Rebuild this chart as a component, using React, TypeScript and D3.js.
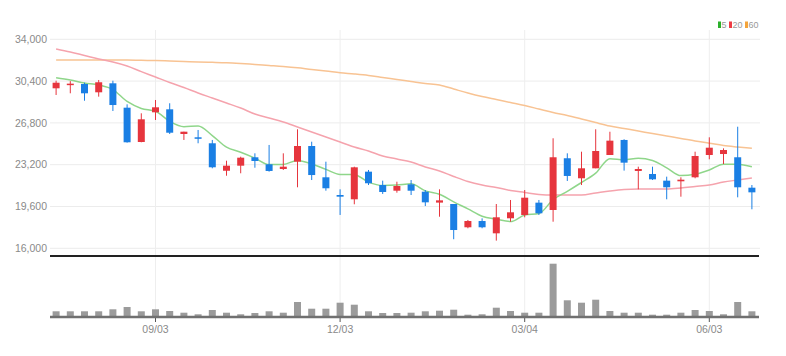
import React from "react";
import * as d3 from "d3";

const dates = [
  "2018-07-16","2018-07-23","2018-07-30","2018-08-06","2018-08-13","2018-08-20","2018-08-27",
  "2018-09-03","2018-09-10","2018-09-17","2018-09-24","2018-10-01","2018-10-08","2018-10-15",
  "2018-10-22","2018-10-29","2018-11-05","2018-11-12","2018-11-19","2018-11-26","2018-12-03",
  "2018-12-10","2018-12-17","2018-12-24","2018-12-31","2019-01-07","2019-01-14","2019-01-21",
  "2019-01-28","2019-02-04","2019-02-11","2019-02-18","2019-02-25","2019-03-04","2019-03-11",
  "2019-03-18","2019-03-25","2019-04-01","2019-04-08","2019-04-15","2019-04-22","2019-04-29",
  "2019-05-06","2019-05-13","2019-05-20","2019-05-27","2019-06-03","2019-06-10","2019-06-17",
  "2019-06-24",
];

const opens = [
  29780, 30100, 30150, 29435, 30210, 28110, 25155, 27713, 27970, 25845,
  25560, 25045, 22680, 23115, 23838, 23235, 22830, 23460, 24810, 22115,
  20590, 20220, 22600, 21450, 20960, 21510, 20875, 19935, 19815, 17810,
  18350, 17290, 18585, 18870, 19930, 19300, 23755, 22030, 22890, 24035,
  25330, 22660, 22400, 21825, 21770, 22115, 24035, 24120, 23840, 21220,
];
const highs = [
  30435, 30400, 30260, 30495, 30435, 28400, 27627, 28773, 28490, 26043,
  26190, 25330, 23545, 23890, 24180, 24900, 24180, 26250, 25180, 23460,
  21080, 23030, 22745, 21825, 21735, 21880, 21020, 21080, 19815, 18440,
  18580, 19815, 20160, 21020, 20160, 25475, 24180, 24320, 26250, 26040,
  25390, 23030, 23030, 22170, 22115, 24320, 25560, 24610, 26470, 21450,
];
const lows = [
  29203, 29350, 28710, 29060, 27825, 25100, 25130, 27050, 25845, 25330,
  25045, 22890, 22250, 22460, 22940, 22600, 22745, 21255, 21880, 20960,
  18870, 19790, 21450, 20680, 20790, 20590, 19640, 18720, 16780, 17725,
  17725, 16660, 18290, 18670, 18870, 18290, 21800, 21450, 22890, 24035,
  22690, 21080, 21880, 20220, 20445, 22030, 23665, 23260, 20390, 19360,
];
const closes = [
  30262, 30180, 29350, 30300, 28340, 25130, 27110, 28143, 25955, 26043,
  25440, 22977, 23115, 23805, 23520, 22660, 23030, 24810, 22310, 21170,
  20445, 22975, 21600, 20850, 21365, 20960, 19960, 20130, 17575, 18350,
  17810, 18670, 19100, 20360, 19015, 23840, 22230, 22890, 24380, 25270,
  23375, 22830, 21940, 21255, 21910, 23950, 24665, 24465, 21255, 20820,
];
const volumes = [
  5700, 5700, 5700, 5700, 7700, 10000, 5700, 7700, 6000, 4300,
  2700, 7000, 4300, 2700, 4000, 5700, 4300, 15000, 8300, 8300,
  14300, 12300, 5700, 4000, 4000, 4300, 5700, 6300, 7300, 2300,
  2700, 9300, 6000, 4300, 4300, 53300, 16700, 14300, 17300, 6000,
  4300, 4300, 2300, 2300, 4300, 7000, 6000, 2700, 15000, 5700,
];
const ma5 = [
  30690, 30495, 30235, 30060, 29670, 28644, 28046, 27805, 26936, 26476,
  26538, 25712, 24706, 24276, 23771, 23215, 23226, 23565, 23266, 22796,
  22353, 22342, 21700, 21408, 21447, 21550, 20947, 20653, 19998, 19395,
  18765, 18507, 18301, 18858, 18991, 20197, 20909, 21667, 22471, 23722,
  23629, 23749, 23559, 22934, 22262, 22377, 22744, 23249, 23249, 23031,
];
const ma20 = [
  33165, 32906, 32605, 32303, 32045, 31701, 31218, 30753, 30280, 29849,
  29376, 28945, 28515, 28084, 27567, 27223, 26877, 26447, 26016, 25586,
  25155, 24725, 24380, 23950, 23692, 23433, 23003, 22658, 22185, 21754,
  21452, 21237, 20979, 20807, 20634, 20591, 20591, 20591, 20763, 20935,
  21065, 21108, 21108, 21108, 21194, 21323, 21452, 21711, 21883, 22055,
];
const ma60 = [
  32217, 32217, 32217, 32217, 32217, 32217, 32191, 32174, 32131, 32088,
  32045, 32019, 31985, 31916, 31830, 31744, 31657, 31545, 31399, 31270,
  31124, 31012, 30882, 30710, 30538, 30366, 30194, 30064, 29720, 29376,
  29072, 28814, 28555, 28297, 27996, 27694, 27438, 27136, 26826, 26534,
  26318, 26103, 25879, 25672, 25466, 25242, 25052, 24855, 24726, 24613,
];
const priceTicks = [16000, 19600, 23200, 26800, 30400, 34000];
const tickDates = ["2018-09-03", "2018-12-03", "2019-03-04", "2019-06-03"];
const maLabels = ["5", "20", "60"];

const UP = "#e6353d";
const DOWN = "#1a7fe4";
const MA_COLORS = ["#8fd68a", "#f5a3ad", "#f8c393"];
const LEGEND_COLORS = ["#2bb02b", "#ee3b45", "#f4a43c"];
const FONT = "'Liberation Sans Narrow', 'Arial Narrow', 'Liberation Sans', sans-serif";

export default function App() {
  const W = 786, H = 356;
  const left = 49, right = 759;
  const idx = d3.range(dates.length);
  const x = d3.scalePoint<number>().domain(idx).range([left, right]).padding(0.5);
  const y = d3.scaleLinear().domain([16000, 34000]).range([248.3, 39.3]);
  const yv = d3.scaleLinear().domain([0, 60000]).range([317, 257]);
  const bw = 7;
  const fmt = d3.format(",");
  const fmtDate = d3.timeFormat("%m/%d");
  const parse = d3.timeParse("%Y-%m-%d");

  const line = (vals: number[]) =>
    d3.line<number>().x((_, i) => x(i) as number).y((v) => y(v)).curve(d3.curveMonotoneX)(vals) || "";

  const legendX = [718, 729, 745];
  const legendTextX = [721.5, 732.5, 748.5];

  return (
    <svg width={W} height={H} style={{ position: "absolute", left: 0, top: 0, background: "#fff" }} fontFamily={FONT}>
      {/* horizontal grid */}
      {priceTicks.map((t) => (
        <g key={t}>
          <line x1={left + 1} x2={right + 1} y1={y(t)} y2={y(t)} stroke="#ececec" strokeWidth={1} />
          <text x={47} y={y(t)} dy="0.35em" textAnchor="end" fontSize={10.5} fill="#8a8a8a">{fmt(t)}</text>
        </g>
      ))}
      {/* vertical grid + x labels */}
      {tickDates.map((d) => {
        const i = dates.indexOf(d);
        const cx = x(i) as number;
        return (
          <g key={d}>
            <line x1={cx} x2={cx} y1={30} y2={317} stroke="#eeeeee" strokeWidth={1} />
            <line x1={cx} x2={cx} y1={317} y2={322} stroke="#555" strokeWidth={1} />
            <text x={cx} y={333} textAnchor="middle" fontSize={10.5} fill="#8a8a8a">{fmtDate(parse(d) as Date)}</text>
          </g>
        );
      })}
      {/* moving averages */}
      <path d={line(ma60)} fill="none" stroke={MA_COLORS[2]} strokeWidth={1.5} />
      <path d={line(ma20)} fill="none" stroke={MA_COLORS[1]} strokeWidth={1.5} />
      <path d={line(ma5)} fill="none" stroke={MA_COLORS[0]} strokeWidth={1.5} />
      {/* candles */}
      {idx.map((i) => {
        const o = opens[i], c = closes[i], h = highs[i], l = lows[i];
        const col = c >= o ? UP : DOWN;
        const cx = x(i) as number;
        const top = y(Math.max(o, c));
        const bot = y(Math.min(o, c));
        return (
          <g key={i}>
            <line x1={cx} x2={cx} y1={y(h)} y2={y(l)} stroke={col} strokeWidth={1} />
            <rect x={cx - bw / 2} y={top} width={bw} height={Math.max(1.5, bot - top)} fill={col} />
          </g>
        );
      })}
      {/* separator */}
      <line x1={left + 1} x2={right} y1={256} y2={256} stroke="#222" strokeWidth={2} />
      {/* volume */}
      {idx.map((i) => {
        const cx = x(i) as number;
        return (
          <rect key={i} x={cx - bw / 2} y={yv(volumes[i])} width={bw} height={317 - yv(volumes[i])} fill="#9b9b9b" />
        );
      })}
      <line x1={left + 1} x2={right} y1={317} y2={317} stroke="#707070" strokeWidth={2.5} />
      {/* legend */}
      {maLabels.map((lab, k) => (
        <g key={lab}>
          <rect x={legendX[k]} y={21.5} width={3} height={6.5} fill={LEGEND_COLORS[k]} />
          <text x={legendTextX[k]} y={27.8} fontSize={9} fill="#999">{lab}</text>
        </g>
      ))}
    </svg>
  );
}
